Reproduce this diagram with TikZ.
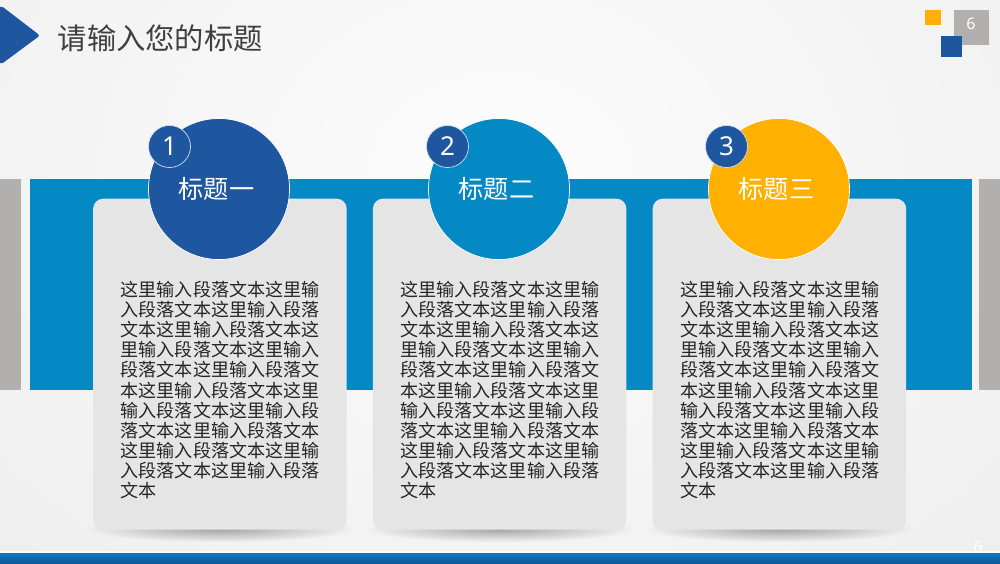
\documentclass[tikz,border=0pt]{standalone}
\usepackage{fontspec}
\setmainfont{Noto Sans}
\newfontfamily\cjk{Noto Sans CJK SC}
\usetikzlibrary{shadings,fadings}
\definecolor{navy}{HTML}{1F56A0}
\definecolor{cyanb}{HTML}{0489C4}
\definecolor{amber}{HTML}{FFB000}
\definecolor{sidegray}{HTML}{B1B0AE}
\definecolor{cardgray}{HTML}{E5E5E5}
\definecolor{titlegray}{HTML}{404040}
\definecolor{bga}{HTML}{FCFCFC}
\definecolor{bgb}{HTML}{EDEDED}
\definecolor{bottomA}{HTML}{0F7ABB}
\definecolor{bottomB}{HTML}{0A5A9E}
\tikzfading[name=softglow,inner color=transparent!0,outer color=transparent!100]
\tikzset{
  band/.style={fill=cyanb,draw=none},
  side/.style={fill=sidegray,draw=none},
  card/.style={rectangle,rounded corners=10pt,fill=cardgray,draw=none,minimum width=253.5pt,minimum height=331pt,inner sep=0pt,anchor=north west},
  bigdot/.style={circle,draw=white,line width=0.7pt,minimum size=141pt,inner sep=0pt,text=white,font=\cjk\fontsize{25.2}{25}\selectfont},
  smalldot/.style={circle,fill=navy,draw=white!80!navy,line width=0.7pt,minimum size=42pt,inner sep=0pt,text=white,font=\fontsize{26}{26}\selectfont},
  body/.style={anchor=north west,align=left,inner sep=0pt,text=black!85,font=\cjk\fontsize{18.08}{20.1}\selectfont},
  smear/.style={fill=black,fill opacity=0.32,path fading=softglow,draw=none},
}
\newcommand{\bodytext}{这里输入段落文本这里输\\入段落文本这里输入段落\\文本这里输入段落文本这\\里输入段落文本这里输入\\段落文本这里输入段落文\\本这里输入段落文本这里\\输入段落文本这里输入段\\落文本这里输入段落文本\\这里输入段落文本这里输\\入段落文本这里输入段落\\文本}
\begin{document}
\begin{tikzpicture}[x=1pt,y=-1pt]
\useasboundingbox (0,0) rectangle (1000,563);
% background
\shade[inner color=bga,outer color=bgb] (-300,-450) rectangle (1300,800);
% bottom bar
\fill[white!90!bgb] (0,551) rectangle (1000,553);
\shade[top color=bottomA,bottom color=bottomB,draw=none] (0,553) rectangle (1000,563);
\node[text=white,font=\fontsize{16}{16}\selectfont,inner sep=0pt] (footnum) at (978,547) {6};
% title arrow
\fill[navy,rounded corners=2.5pt] (-6,10) -- (1.5,6) -- (40,35.5) -- (1.5,64) -- (-6,60) -- cycle;
\node[anchor=west,inner sep=0pt,text=titlegray,font=\cjk\fontsize{29.3}{29}\selectfont] (title) at (57.5,38) {请输入您的标题};
% corner squares
\fill[amber] (925,10) rectangle (941,25);
\fill[sidegray] (953.5,10) rectangle (989,44.5);
\fill[navy] (940.5,35.5) rectangle (962,57);
\node[text=white,font=\fontsize{16}{16}\selectfont,inner sep=0pt] (pagenum) at (971,24) {6};
% bands
\fill[side] (0,178.5) rectangle (20.5,390);
\fill[side] (979,178.5) rectangle (1000,390);
\fill[band] (29.5,178.5) rectangle (972,390);
% shadows
\fill[smear] (219.5,529) ellipse [x radius=135pt,y radius=13pt];
\fill[smear] (499.5,529) ellipse [x radius=135pt,y radius=13pt];
\fill[smear] (779.5,529) ellipse [x radius=135pt,y radius=13pt];
% cards
\node[card] (card1) at (93,198.5) {};
\node[card] (card2) at (372.7,198.5) {};
\node[card] (card3) at (652.5,198.5) {};
% circles
\node[bigdot,fill=navy] (c1) at (219,189) {\hspace{-5pt}标题一};
\node[bigdot,fill=cyanb] (c2) at (499,189) {\hspace{-5pt}标题二};
\node[bigdot,fill=amber] (c3) at (779,189) {\hspace{-5pt}标题三};
\node[smalldot] (n1) at (169.5,146.5) {1};
\node[smalldot] (n2) at (447.5,146.5) {2};
\node[smalldot] (n3) at (726.5,146.5) {3};
% body text
\node[body] (t1) at (120.5,281) {\bodytext};
\node[body] (t2) at (400.3,281) {\bodytext};
\node[body] (t3) at (680.3,281) {\bodytext};
\end{tikzpicture}
\end{document}
